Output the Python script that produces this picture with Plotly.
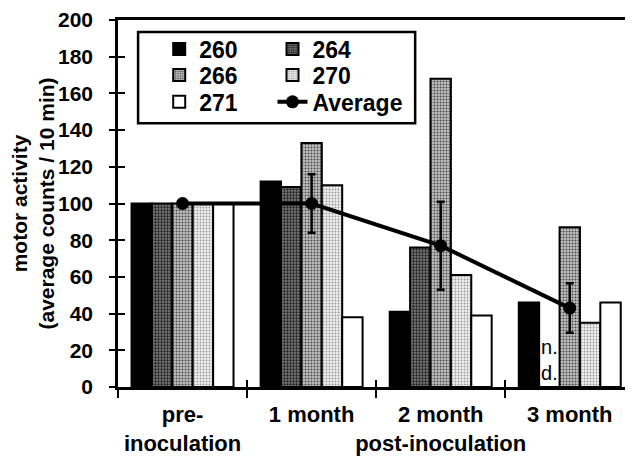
import plotly.graph_objects as go

categories = ["pre-<br>inoculation", "1 month", "2 month<br>post-inoculation", "3 month"]
series_names = ["260", "264", "266", "270", "271"]
v260 = [100, 112, 41, 46]
v264 = [100, 109, 76, None]   # None = n.d.
v266 = [100, 133, 168, 87]
v270 = [100, 110, 61, 35]
v271 = [100, 38, 39, 46]
avg_values = [100, 100, 77, 43]
avg_errors = [0, 16, 24, 13.5]
y_ticks = [0, 20, 40, 60, 80, 100, 120, 140, 160, 180, 200]

series_values = [v260, v264, v266, v270, v271]

FONT = "Liberation Sans, Arial, sans-serif"

styles = {
    "260": dict(color="#000000", pattern=None),
    "264": dict(color="#5a5a5a", pattern=dict(shape=".", fgcolor="#1e1e1e", bgcolor="#7a7a7a", size=3, solidity=0.45)),
    "266": dict(color="#a0a0a0", pattern=dict(shape=".", fgcolor="#4a4a4a", bgcolor="#c0c0c0", size=3, solidity=0.35)),
    "270": dict(color="#d6d6d6", pattern=dict(shape=".", fgcolor="#9a9a9a", bgcolor="#eeeeee", size=3, solidity=0.3)),
    "271": dict(color="#ffffff", pattern=None),
}

legend_ids = ["legend", "legend3", "legend2", "legend4", "legend5"]

fig = go.Figure()
for name, vals, lid in zip(series_names, series_values, legend_ids):
    st = styles[name]
    marker = dict(color=st["color"], line=dict(color="black", width=2))
    if st["pattern"] is not None:
        marker["pattern"] = st["pattern"]
    yv = [v if v is not None else 0 for v in vals]
    txt = ["n.<br>d." if v is None else "" for v in vals]
    fig.add_trace(go.Bar(
        x=categories, y=yv, name=name, marker=marker, legend=lid,
        text=txt, textposition="outside", constraintext="none", cliponaxis=False,
        textfont=dict(family=FONT, size=20, color="black", weight="normal"),
    ))

fig.add_trace(go.Scatter(
    x=categories, y=avg_values, name="Average", mode="lines+markers",
    line=dict(color="black", width=4), marker=dict(color="black", size=13),
    error_y=dict(type="data", array=avg_errors, color="black", thickness=2.5, width=4),
    legend="legend6",
))

# overlay axes for crossing ticks
fig.add_trace(go.Scatter(x=categories, y=[None] * 4, xaxis="x2", yaxis="y2",
                         showlegend=False, hoverinfo="skip"))

rows_y = [0.921, 0.850, 0.777]
cols_x = [0.08, 0.30]
positions = {
    "legend": (cols_x[0], rows_y[0]), "legend3": (cols_x[1], rows_y[0]),
    "legend2": (cols_x[0], rows_y[1]), "legend4": (cols_x[1], rows_y[1]),
    "legend5": (cols_x[0], rows_y[2]), "legend6": (cols_x[1], rows_y[2]),
}
for lid, (lx, ly) in positions.items():
    fig.update_layout({lid: dict(x=lx, y=ly, xanchor="left", yanchor="middle",
                                 bgcolor="rgba(0,0,0,0)", borderwidth=0,
                                 font=dict(family=FONT, size=23, color="black", weight="bold"))})

fig.add_shape(type="rect", xref="paper", yref="paper", x0=0.039, x1=0.577, y0=0.719, y1=0.967,
              line=dict(color="black", width=2.5), fillcolor="rgba(0,0,0,0)", layer="above")

fig.update_layout(
    template="none",
    width=625, height=456,
    margin=dict(l=110, r=0, t=12, b=77),
    paper_bgcolor="white", plot_bgcolor="white",
    font=dict(family=FONT, color="black", weight="bold"),
    barmode="group", bargap=0.21, bargroupgap=0,
    showlegend=True,
    xaxis=dict(range=[-0.5, 3.49], showline=True, linecolor="black", linewidth=2.5, mirror=True,
               ticks="outside", ticklen=8, tickwidth=2, tickcolor="black", tickson="boundaries",
               tickangle=0, automargin=False, ticklabelstandoff=6,
               tickfont=dict(family=FONT, size=22, weight="bold"), showgrid=False, zeroline=False),
    yaxis=dict(range=[0, 200], tickvals=y_ticks, showline=True, linecolor="black", linewidth=2.5,
               ticks="outside", ticklen=6, tickwidth=2, tickcolor="black", ticklabelstandoff=12,
               automargin=False,
               tickfont=dict(family=FONT, size=21, weight="bold"), showgrid=False, zeroline=False,
               title=dict(text="motor activity<br>(average counts / 10 min)", standoff=14,
                          font=dict(family=FONT, size=21, weight="bold"))),
    xaxis2=dict(range=[-0.5, 3.49], overlaying="x", anchor="y2", ticks="inside", ticklen=7, tickwidth=2,
                tickcolor="black", tickson="boundaries", showticklabels=False, showline=False,
                automargin=False, showgrid=False, zeroline=False, side="bottom"),
    yaxis2=dict(range=[0, 200], tickvals=y_ticks, overlaying="y", anchor="x2", side="left",
                ticks="inside", ticklen=7, tickwidth=2, tickcolor="black", showticklabels=False,
                automargin=False, showline=False, showgrid=False, zeroline=False),
)

fig.write_html("out.html")
